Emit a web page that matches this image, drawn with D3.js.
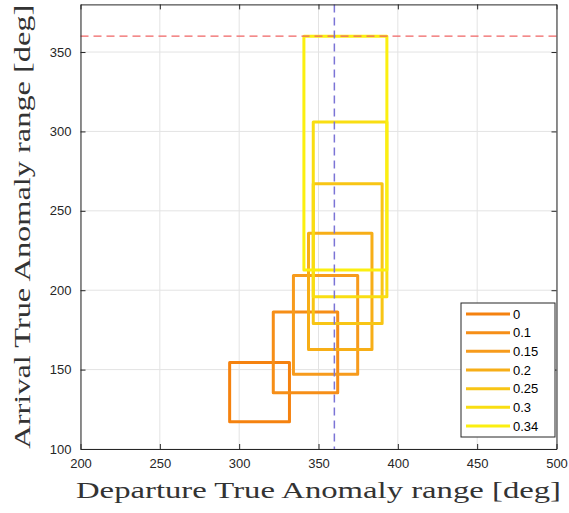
<!DOCTYPE html>
<html>
<head>
<meta charset="utf-8">
<script src="https://cdn.jsdelivr.net/npm/d3@7"></script>
<style>
  body { margin: 0; background: #fff; }
  svg { display: block; }
</style>
</head>
<body>
<div id="svgWrapper"></div>
<script>
const eccentricity = ["0", "0.1", "0.15", "0.2", "0.25", "0.3", "0.34"];
const depMin = [294, 321.5, 334.2, 343.7, 346.7, 346.7, 340.8];
const depMax = [331.7, 362.1, 374.7, 383.7, 390.1, 393.1, 393.1];
const arrMin = [117.2, 135.5, 147, 162.7, 179, 195.9, 212.7];
const arrMax = [154.5, 186.3, 209.3, 235.8, 267, 305.9, 360];
const colors = ["#f5820f", "#f68e17", "#f79b1c", "#f7ae17", "#f8c515", "#f9de12", "#fbef10"];
const xTicks = [200, 250, 300, 350, 400, 450, 500];
const yTicks = [100, 150, 200, 250, 300, 350];
const refDep = 360;
const refArr = 360;

const margin = { left: 80.5, top: 4.4, right: 12.5, bottom: 64 };
const W = 569, H = 513;
const width = W - margin.left - margin.right;
const height = H - margin.top - margin.bottom;

const svg = d3.select("#svgWrapper").append("svg")
  .attr("width", W)
  .attr("height", H);

const g = svg.append("g")
  .attr("transform", "translate(" + margin.left + "," + margin.top + ")");

const xScale = d3.scaleLinear().domain([200, 500]).range([0, width]);
const yScale = d3.scaleLinear().domain([100, 380]).range([height, 0]);

// grid
g.append("g").selectAll("line").data(xTicks).enter().append("line")
  .attr("x1", d => xScale(d)).attr("x2", d => xScale(d))
  .attr("y1", 0).attr("y2", height)
  .attr("stroke", "#e3e3e3").attr("stroke-width", 1);
g.append("g").selectAll("line").data(yTicks).enter().append("line")
  .attr("x1", 0).attr("x2", width)
  .attr("y1", d => yScale(d)).attr("y2", d => yScale(d))
  .attr("stroke", "#e3e3e3").attr("stroke-width", 1);

// rectangles
g.append("g").selectAll("rect").data(eccentricity).enter().append("rect")
  .attr("x", (d, i) => xScale(depMin[i]))
  .attr("y", (d, i) => yScale(arrMax[i]))
  .attr("width", (d, i) => xScale(depMax[i]) - xScale(depMin[i]))
  .attr("height", (d, i) => yScale(arrMin[i]) - yScale(arrMax[i]))
  .attr("fill", "none")
  .attr("stroke", (d, i) => colors[i])
  .attr("stroke-width", 3)
  .attr("stroke-linejoin", "round");

// reference lines
g.append("line")
  .attr("x1", 0).attr("x2", width)
  .attr("y1", yScale(refArr)).attr("y2", yScale(refArr))
  .attr("stroke", "#f06464").attr("stroke-width", 1.3)
  .attr("stroke-dasharray", "8,5");
g.append("line")
  .attr("x1", xScale(refDep)).attr("x2", xScale(refDep))
  .attr("y1", 0).attr("y2", height)
  .attr("stroke", "#7b74d6").attr("stroke-width", 1.5)
  .attr("stroke-dasharray", "8,5");

// axes
const xAxis = d3.axisBottom(xScale).tickValues(xTicks).tickSizeInner(-5).tickSizeOuter(0).tickPadding(10);
const yAxis = d3.axisLeft(yScale).tickValues(yTicks).tickSizeInner(-5).tickSizeOuter(0).tickPadding(9);
const xTop = d3.axisTop(xScale).tickValues(xTicks).tickSizeInner(-5).tickSizeOuter(0).tickFormat("");
const yRight = d3.axisRight(yScale).tickValues(yTicks).tickSizeInner(-5).tickSizeOuter(0).tickFormat("");

const gx = g.append("g").attr("transform", "translate(0," + height + ")").call(xAxis);
const gy = g.append("g").call(yAxis);
const gxt = g.append("g").call(xTop);
const gyr = g.append("g").attr("transform", "translate(" + width + ",0)").call(yRight);

[gx, gy, gxt, gyr].forEach(a => {
  a.select(".domain").attr("stroke", "#262626").attr("stroke-width", 1);
  a.selectAll(".tick line").attr("stroke", "#262626");
  a.selectAll("text")
    .attr("fill", "#262626")
    .style("font-family", "'Liberation Sans', Arial, sans-serif")
    .style("font-size", "13px");
});

// legend
const legend = g.append("g").attr("transform", "translate(" + (461 - margin.left) + "," + (303 - margin.top) + ")");
legend.append("rect")
  .attr("x", 0).attr("y", 0)
  .attr("width", 94).attr("height", 134)
  .attr("fill", "#fff")
  .attr("stroke", "#262626").attr("stroke-width", 1);
const rows = legend.selectAll("g.row").data(eccentricity).enter().append("g")
  .attr("class", "row")
  .attr("transform", (d, i) => "translate(0," + (11 + i * 18.67) + ")");
rows.append("line")
  .attr("x1", 5).attr("x2", 49)
  .attr("y1", 0).attr("y2", 0)
  .attr("stroke", (d, i) => colors[i])
  .attr("stroke-width", 3);
rows.append("text")
  .attr("x", 52).attr("y", 0)
  .attr("dy", "0.36em")
  .style("font-family", "'Liberation Sans', Arial, sans-serif")
  .style("font-size", "13px")
  .attr("fill", "#000")
  .text(d => d);

// axis labels
svg.append("text")
  .attr("x", margin.left + width / 2)
  .attr("y", 498)
  .attr("text-anchor", "middle")
  .attr("textLength", 485)
  .attr("lengthAdjust", "spacingAndGlyphs")
  .style("font-family", "'Liberation Serif', 'Times New Roman', serif")
  .style("font-size", "24px")
  .attr("fill", "#333")
  .text("Departure True Anomaly range [deg]");

svg.append("text")
  .attr("transform", "translate(30," + (margin.top + height / 2) + ") rotate(-90)")
  .attr("text-anchor", "middle")
  .attr("textLength", 444)
  .attr("lengthAdjust", "spacingAndGlyphs")
  .style("font-family", "'Liberation Serif', 'Times New Roman', serif")
  .style("font-size", "24px")
  .attr("fill", "#333")
  .text("Arrival True Anomaly range [deg]");
</script>
</body>
</html>
